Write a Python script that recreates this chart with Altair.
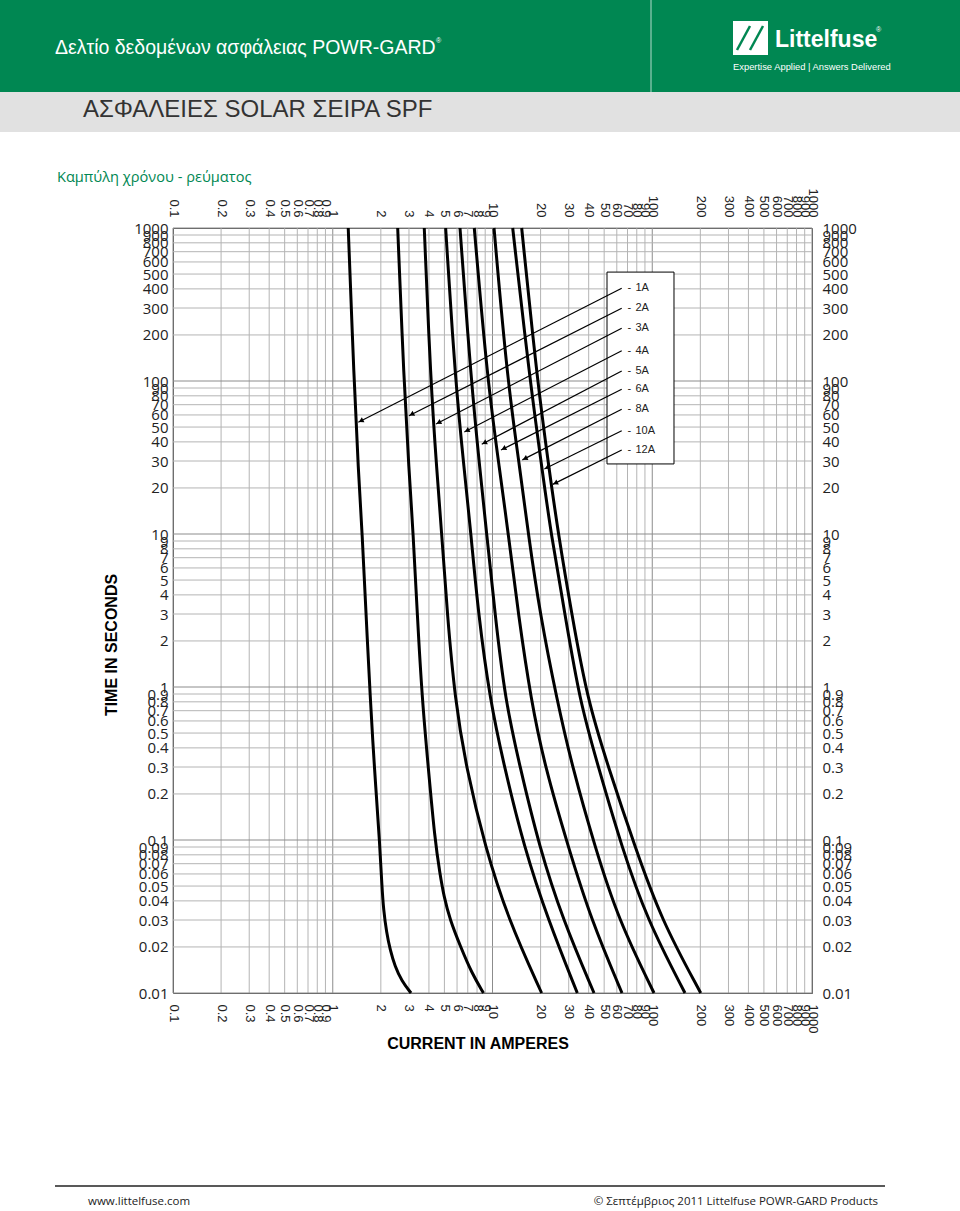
import math
import altair as alt
import pandas as pd

GREEN = "#008752"

# ---------------- data ----------------
fuses = ["1A", "2A", "3A", "4A", "5A", "6A", "8A", "10A", "12A"]

t_1A = [1000, 100, 26, 10, 3, 0.82, 0.3, 0.09, 0.05, 0.035, 0.025, 0.019, 0.015, 0.012, 0.01]
i_1A = [1.25, 1.36, 1.445, 1.53, 1.615, 1.72, 1.82, 1.976, 2.03, 2.08, 2.17, 2.29, 2.45, 2.7, 3.09]

t_2A = [1000, 100, 26, 10, 3, 0.82, 0.3, 0.1, 0.06, 0.043, 0.03, 0.02, 0.0135, 0.01]
i_2A = [2.55, 2.79, 3.0, 3.19, 3.38, 3.63, 3.96, 4.36, 4.69, 4.96, 5.42, 6.32, 7.41, 8.78]

t_main = [1000, 100, 26, 10, 3, 0.82, 0.3, 0.09, 0.03, 0.01]
i_3A = [3.74, 4.10, 4.48, 4.81, 5.21, 5.83, 6.83, 8.98, 12.6, 20.3]
i_4A = [5.09, 5.85, 6.66, 7.33, 8.15, 9.65, 11.86, 15.74, 22.3, 33.95]
i_5A = [6.26, 7.35, 8.35, 9.2, 10.37, 12.0, 14.86, 19.63, 27.6, 43.2]
i_6A = [7.69, 9.3, 11.1, 12.56, 14.5, 17.42, 21.31, 29.8, 41.5, 64.65]
i_8A = [10.22, 12.4, 14.9, 16.75, 19.83, 25.34, 31.59, 43.8, 61.5, 102.6]
i_10A = [13.38, 17.17, 20.49, 23.24, 28.43, 35.04, 45.96, 64.4, 93.0, 160.3]
i_12A = [15.23, 19.07, 22.68, 25.82, 31.32, 39.33, 53.07, 77.98, 114.0, 201.1]

# legend box and arrows (data units)
box_amps = [52.1, 136.8]
box_time = [515, 28.7]
legend_row_time = [403.5, 298.7, 221.0, 157.8, 116.2, 88.3, 65.3, 47.3, 35.4]
arrow_start_amps = 64.4
legend_dash_amps = 70.0
legend_text_amps = 78.5
arrow_tip_amps = [1.445, 3.0, 4.43, 6.66, 8.56, 11.30, 15.37, 21.1, 23.82]
arrow_tip_time = [53.7, 59.3, 52.4, 46.4, 38.6, 35.4, 30.5, 26.6, 21.1]

# grid / tick values
x_ticks = [round(k * 10 ** e, 4) for e in range(-1, 3) for k in range(1, 10)] + [1000]
y_ticks = [round(k * 10 ** e, 4) for e in range(-2, 3) for k in range(1, 10)] + [1000]
x_major = [0.1, 1, 10, 100, 1000]
y_major = [0.01, 0.1, 1, 10, 100, 1000]

# ---------------- layout ----------------
W, H = 639, 765
PAD_L, PAD_T = 173, 228
PXX = W / 4.0
PXY = H / 5.0

curve_rows = []
for name, tt, ii in [("1A", t_1A, i_1A), ("2A", t_2A, i_2A), ("3A", t_main, i_3A),
                     ("4A", t_main, i_4A), ("5A", t_main, i_5A), ("6A", t_main, i_6A),
                     ("8A", t_main, i_8A), ("10A", t_main, i_10A), ("12A", t_main, i_12A)]:
    for t, i in zip(tt, ii):
        curve_rows.append({"fuse": name, "time": t, "amps": i})
curves_df = pd.DataFrame(curve_rows)

xgrid_df = pd.DataFrame({"v": x_ticks, "major": [v in x_major for v in x_ticks]})
ygrid_df = pd.DataFrame({"v": y_ticks, "major": [v in y_major for v in y_ticks]})

arrow_rows = []
for name, rt, ti, tt in zip(fuses, legend_row_time, arrow_tip_amps, arrow_tip_time):
    dx = (math.log10(ti) - math.log10(arrow_start_amps)) * PXX
    dy = -(math.log10(tt) - math.log10(rt)) * PXY
    length = math.hypot(dx, dy)
    ang = math.degrees(math.atan2(dx, -dy)) % 360
    f = 3.0 / length
    hx = 10 ** (math.log10(ti) - f * (math.log10(ti) - math.log10(arrow_start_amps)))
    hy = 10 ** (math.log10(tt) - f * (math.log10(tt) - math.log10(rt)))
    arrow_rows.append({"fuse": name, "sx": arrow_start_amps, "sy": rt, "tx": ti, "ty": tt,
                       "hx": hx, "hy": hy, "ang": ang,
                       "dx": legend_dash_amps, "lx": legend_text_amps})
arrows_df = pd.DataFrame(arrow_rows)
box_df = pd.DataFrame({"x1": [box_amps[0]], "x2": [box_amps[1]], "y1": [box_time[0]], "y2": [box_time[1]]})

xs = alt.Scale(type="log", domain=[0.1, 1000], nice=False)
ys = alt.Scale(type="log", domain=[0.01, 1000], nice=False)

LBL = "format(datum.value, '~g')"


def xaxis(orient):
    return alt.Axis(orient=orient, values=x_ticks, ticks=False, domain=False, grid=False,
                    labelOverlap=False, labelFlush=False, title=None, labelExpr=LBL,
                    labelAngle=90, labelAlign="left" if orient == "bottom" else "right",
                    labelBaseline="middle", labelPadding=11, labelFont="Liberation Sans",
                    labelFontSize=13, labelColor="#222222")


def yaxis(orient):
    return alt.Axis(orient=orient, values=y_ticks, ticks=False, domain=False, grid=False,
                    labelOverlap=False, labelFlush=False, title=None, labelExpr=LBL,
                    labelAlign="right" if orient == "left" else "left",
                    labelBaseline="middle", labelPadding=5 if orient == "left" else 10,
                    labelFont="Open Sans", labelFontSize=15, labelColor="#222222")


one = pd.DataFrame({"a": [0]})
GRID_COL = alt.Scale(domain=[True, False], range=["#8c8c8c", "#b4b4b4"])

xgrid = alt.Chart(xgrid_df).mark_rule(strokeWidth=1).encode(
    x=alt.X("v:Q", scale=xs, axis=xaxis("bottom")),
    color=alt.Color("major:N", scale=GRID_COL, legend=None),
)
ygrid = alt.Chart(ygrid_df).mark_rule(strokeWidth=1).encode(
    y=alt.Y("v:Q", scale=ys, axis=yaxis("left")),
    color=alt.Color("major:N", scale=GRID_COL, legend=None),
)
axes2 = alt.Chart(curves_df).mark_point(opacity=0).encode(
    x=alt.X("amps:Q", scale=xs, axis=xaxis("top")),
    y=alt.Y("time:Q", scale=ys, axis=yaxis("right")),
)

curves = alt.Chart(curves_df).mark_line(color="black", strokeWidth=3, interpolate="basis").encode(
    x=alt.X("amps:Q", scale=xs, axis=None),
    y=alt.Y("time:Q", scale=ys, axis=None),
    detail="fuse:N",
)

box = alt.Chart(box_df).mark_rect(fill="white", stroke="black", strokeWidth=1).encode(
    x=alt.X("x1:Q", scale=xs, axis=None), x2="x2:Q",
    y=alt.Y("y1:Q", scale=ys, axis=None), y2="y2:Q",
)

arrow_lines = alt.Chart(arrows_df).mark_rule(color="black", strokeWidth=1.2).encode(
    x=alt.X("sx:Q", scale=xs, axis=None), x2="tx:Q",
    y=alt.Y("sy:Q", scale=ys, axis=None), y2="ty:Q",
)
arrow_heads = alt.Chart(arrows_df).mark_point(shape="triangle-up", filled=True, color="black",
                                              size=32, opacity=1).encode(
    x=alt.X("hx:Q", scale=xs, axis=None),
    y=alt.Y("hy:Q", scale=ys, axis=None),
    angle=alt.Angle("ang:Q", scale=None),
)
leg_dash = alt.Chart(arrows_df).mark_text(text="-", align="left", baseline="middle", fontSize=11,
                                          font="Liberation Sans", color="#222").encode(
    x=alt.X("dx:Q", scale=xs, axis=None),
    y=alt.Y("sy:Q", scale=ys, axis=None),
)
leg_text = alt.Chart(arrows_df).mark_text(align="left", baseline="middle", fontSize=11,
                                          font="Liberation Sans", color="#222").encode(
    x=alt.X("lx:Q", scale=xs, axis=None),
    y=alt.Y("sy:Q", scale=ys, axis=None),
    text="fuse:N",
)


# --------------- page decorations (pixel positions relative to the plot origin) ---------------
def px(X):
    return X - PAD_L


def py(Y):
    return Y - PAD_T


def rect(x1, x2, y1, y2, color):
    return alt.Chart(one).mark_rect(color=color).encode(
        x=alt.value(px(x1)), x2=alt.value(px(x2)), y=alt.value(py(y1)), y2=alt.value(py(y2)))


def rule(x1, x2, y1, y2, color, w=1.0, opacity=1.0):
    return alt.Chart(one).mark_rule(color=color, strokeWidth=w, opacity=opacity).encode(
        x=alt.value(px(x1)), x2=alt.value(px(x2)), y=alt.value(py(y1)), y2=alt.value(py(y2)))


def text(s, X, Y, size, color="#222", font="Liberation Sans", weight="normal", align="left", angle=0):
    kw = dict(text=s, align=align, baseline="middle", fontSize=size, color=color, font=font,
              fontWeight=weight)
    if angle:
        kw["angle"] = angle
    return alt.Chart(one).mark_text(**kw).encode(x=alt.value(px(X)), y=alt.value(py(Y)))


deco = [
    rect(0, 960, 0, 92, GREEN),
    rule(651, 651, 0, 92, "white", 1, 0.7),
    rect(0, 960, 92, 132, "#e1e1e1"),
    text("Δελτίο δεδομένων ασφάλειας POWR-GARD", 55, 48, 19.5, "white", "Liberation Sans"),
    text("®", 436, 41, 7, "white"),
    rect(733, 768, 21, 55, "white"),
    rule(737, 750, 50, 26, GREEN, 2.5),
    rule(750, 763, 50, 26, GREEN, 2.5),
    text("Littelfuse", 775, 40, 23, "white", "Liberation Sans", "bold"),
    text("®", 876, 30, 7, "white"),
    text("Expertise Applied  |  Answers Delivered", 733, 67, 9.4, "white", "Liberation Sans"),
    text("ΑΣΦΑΛΕΙΕΣ SOLAR ΣΕΙΡΑ SPF", 83, 110, 24, "#333333", "Liberation Sans"),
    text("Καμπύλη χρόνου - ρεύματος", 57, 178, 14.6, GREEN, "Open Sans"),
    text("TIME IN SECONDS", 112, 645, 16, "black", "Liberation Sans", "bold", "center", 270),
    text("CURRENT IN AMPERES", 478, 1044, 16, "black", "Liberation Sans", "bold", "center"),
    rule(55, 885, 1186, 1186, "#222222", 1.5),
    text("www.littelfuse.com", 88, 1202, 11.5, "#222", "Open Sans"),
    text("© Σεπτέμβριος 2011 Littelfuse POWR-GARD Products", 878, 1202, 11.5, "#222", "Open Sans",
         align="right"),
]

chart = alt.layer(
    xgrid, ygrid, axes2, curves, box, arrow_lines, arrow_heads, leg_dash, leg_text, *deco
).resolve_axis(x="independent", y="independent").resolve_scale(color="independent").properties(
    width=W, height=H,
    autosize=alt.AutoSizeParams(type="none"),
    padding={"left": PAD_L, "top": PAD_T, "right": 960 - PAD_L - W, "bottom": 1211 - PAD_T - H},
    background="white",
).configure_view(stroke="#505050", strokeWidth=1)

chart.save("out.html", embed_options={"renderer": "svg", "actions": False})
